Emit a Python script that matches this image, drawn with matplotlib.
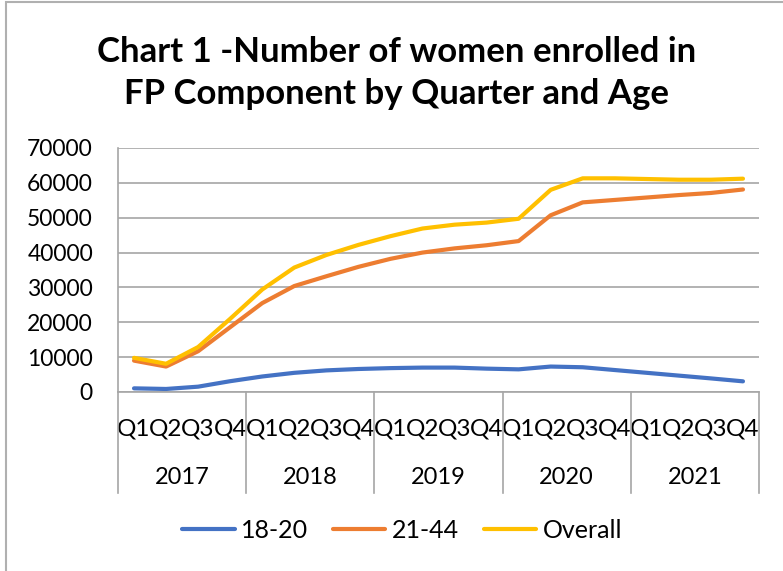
import matplotlib.pyplot as plt
import matplotlib.transforms as mtransforms
from matplotlib.patches import Rectangle

plt.rcParams['font.family'] = ['Lato', 'DejaVu Sans']

# data
years = ['2017', '2018', '2019', '2020', '2021']
quarters = ['Q1', 'Q2', 'Q3', 'Q4']
age_18_20 = [1050, 870, 1530, 3100, 4450, 5500, 6200, 6600, 6850, 7000,
             7000, 6700, 6500, 7300, 7100, 6300, 5500, 4700, 3900, 3060]
age_21_44 = [9000, 7300, 11700, 18600, 25500, 30400, 33200, 35900, 38200, 40000,
             41200, 42100, 43300, 50700, 54400, 55100, 55800, 56500, 57100, 58100]
overall = [9800, 8100, 12900, 21000, 29400, 35700, 39300, 42200, 44700, 46900,
           48000, 48600, 49700, 58000, 61300, 61300, 61100, 60900, 60900, 61200]

series = [('18-20', age_18_20, '#4472C4'),
          ('21-44', age_21_44, '#ED7D31'),
          ('Overall', overall, '#FFC000')]

W, H = 783, 571
fig = plt.figure(figsize=(W / 100, H / 100), dpi=100)
fig.patch.set_facecolor('white')

# chart border (cropped on the right/bottom in the reference)
fig.add_artist(Rectangle((6 / W, -0.1), 1.2, (H - 2) / H + 0.1, transform=fig.transFigure,
                         fill=False, edgecolor='#b0b0b0', lw=1.5))

ax = fig.add_axes([118 / W, (H - 392) / H, 641 / W, 244 / H])
x = list(range(len(age_18_20)))
for name, vals, col in series:
    ax.plot(x, vals, color=col, lw=3.0, label=name, solid_capstyle='round')

ax.set_xlim(-0.5, len(x) - 0.5)
ax.set_ylim(0, 70000)
ax.set_yticks(range(0, 70001, 10000))
ax.tick_params(axis='y', length=0, pad=18, labelsize=16.5, labelcolor='black')
ax.yaxis.grid(True, color='#a6a6a6', lw=1.2)
ax.set_axisbelow(True)
for s in ['top', 'right']:
    ax.spines[s].set_visible(False)
ax.spines['left'].set_color('#a6a6a6')
ax.spines['bottom'].set_color('#a6a6a6')
ax.spines['left'].set_linewidth(1.2)
ax.spines['bottom'].set_linewidth(1.2)

ax.set_xticks(x)
ax.set_xticklabels(quarters * len(years), fontsize=17.5)
ax.tick_params(axis='x', length=0, pad=19)

# year labels and separators under the axis
trans = mtransforms.blended_transform_factory(ax.transData, ax.transAxes)
for k, yr in enumerate(years):
    ax.text(4 * k + 1.5, -0.35, yr, transform=trans, ha='center', va='center', fontsize=17)
for k in range(len(years) + 1):
    ax.plot([4 * k - 0.5] * 2, [0, -(493 - 392) / 244], transform=trans,
            color='#a6a6a6', lw=1.2, clip_on=False)

fig.text(397 / W, 1 - 73 / H, 'Chart 1 -Number of women enrolled in\nFP Component by Quarter and Age',
         ha='center', va='center', fontsize=25, fontweight='bold', linespacing=1.38)

fig.legend(loc='center', bbox_to_anchor=(402 / W, 1 - 530 / H), ncol=3, frameon=False,
           fontsize=18, handlelength=2.1, handletextpad=0.25, columnspacing=1.0)

fig.savefig('out.png', dpi=100)
